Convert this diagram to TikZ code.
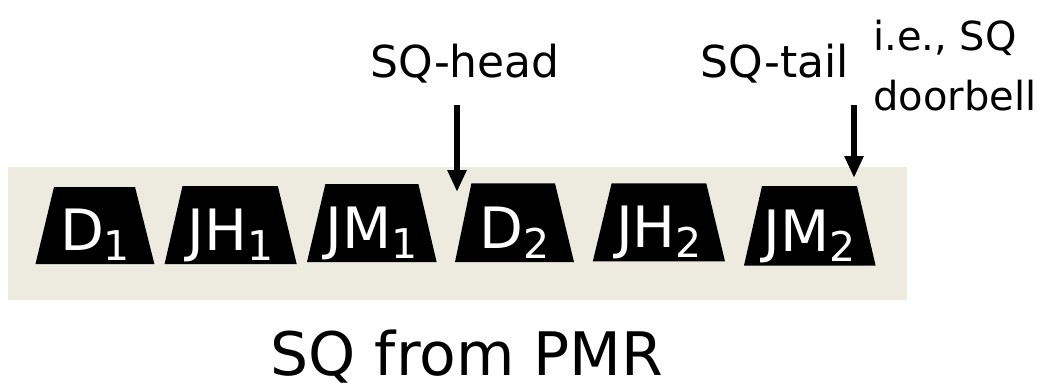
\documentclass[tikz,border=0pt]{standalone}
\usepackage{fontspec}
\setmainfont{DejaVu Sans}
\usetikzlibrary{arrows.meta}
\definecolor{queuebg}{HTML}{EDEBE0}
\newcommand{\fsz}[1]{\fontsize{#1}{#1}\selectfont}
\newcommand{\idx}[1]{\raisebox{-10pt}{\fsz{41}#1}}

\begin{document}
\begin{tikzpicture}[x=1pt,y=-1pt,
  entry/.style={fill=black},
  entrylabel/.style={text=white, anchor=base, inner sep=0pt, font=\fsz{57}},
  tag/.style={anchor=base, inner sep=0pt, font=\fsz{44}},
  note/.style={anchor=base west, inner sep=0pt, font=\fsz{40}},
  caption/.style={anchor=base, inner sep=0pt, font=\fsz{60}},
  pointer/.style={line width=5.5pt, -{Triangle[width=18pt,length=22pt]}},
]
\useasboundingbox (0,0) rectangle (1056,389);

% queue strip
\fill[queuebg] (8,167) rectangle (907,300);

% queue entries (trapezoids)
\fill[entry] (35.5,264) -- (154.4,264) -- (135,187) -- (54,187) -- cycle;
\fill[entry] (164.6,264) -- (296.7,264) -- (277.8,186) -- (182.5,186) -- cycle;
\fill[entry] (307,262) -- (436.6,262) -- (418.4,184) -- (325.4,184) -- cycle;
\fill[entry] (455,262) -- (574,262) -- (555,183.4) -- (471.4,183.4) -- cycle;
\fill[entry] (592.8,261.4) -- (725,261.4) -- (706.3,183.4) -- (611.6,183.4) -- cycle;
\fill[entry] (744,265.5) -- (875.6,265.5) -- (857,186) -- (762,186) -- cycle;

\node[entrylabel] (d1)  at (95,250)    {D\idx{1}};
\node[entrylabel] (jh1) at (230.6,250) {JH\idx{1}};
\node[entrylabel] (jm1) at (371.8,248) {JM\idx{1}};
\node[entrylabel] (d2)  at (514.5,248) {D\idx{2}};
\node[entrylabel] (jh2) at (658.9,247) {JH\idx{2}};
\node[entrylabel] (jm2) at (809.8,251) {JM\idx{2}};

% pointers
\node[tag] (head) at (465,77) {SQ-head};
\node[tag] (tail) at (775,77) {SQ-tail};
\node[note] (ie)   at (873,50)  {i.e., SQ};
\node[note] (bell) at (873,110) {doorbell};

\coordinate (headfrom) at (457,105);
\coordinate (headto)   at (457,192);
\coordinate (tailfrom) at (854,105);
\coordinate (tailto)   at (854,178);
\draw[pointer] (headfrom) -- (headto);
\draw[pointer] (tailfrom) -- (tailto);

% caption
\node[caption] (title) at (467,375) {SQ from PMR};
\end{tikzpicture}
\end{document}
